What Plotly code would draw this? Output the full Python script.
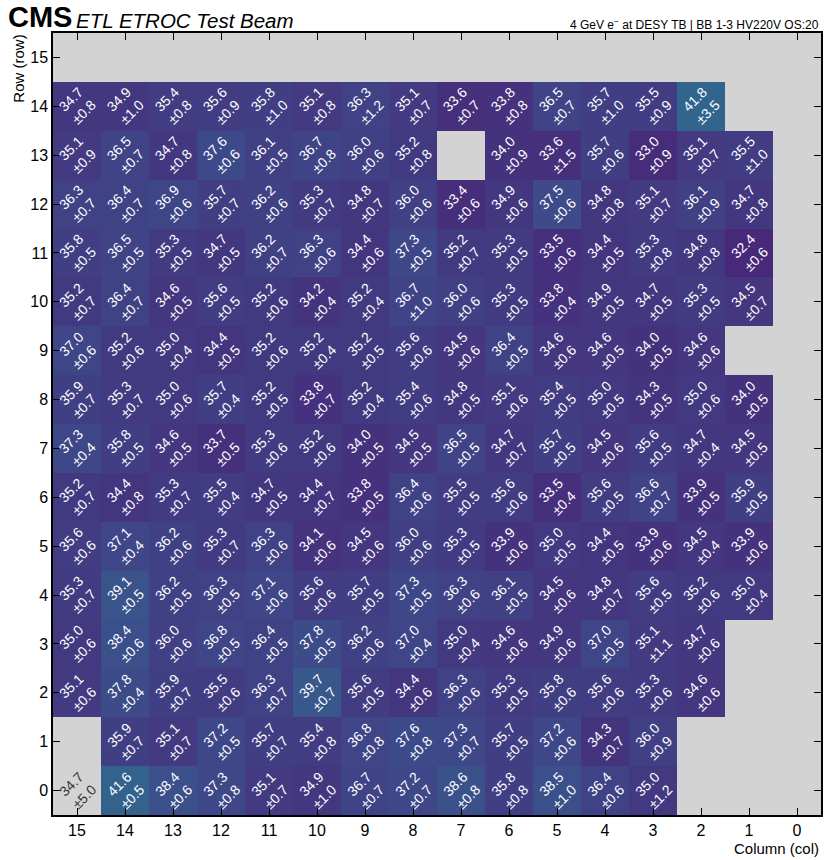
import plotly.graph_objects as go

# Pixel grid: columns are drawn from 15 (left) to 0 (right), rows listed top (15) to bottom (0)
columns = list(range(15, -1, -1))
rows = list(range(15, -1, -1))
N = None

# Time resolution per pixel [ps], one list per row, entries follow `columns`
time_res = [
    [N] * 16,  # row 15
    [34.7, 34.9, 35.4, 35.6, 35.8, 35.1, 36.3, 35.1, 33.6, 33.8, 36.5, 35.7, 35.5, 41.8, N, N],  # 14
    [35.1, 36.5, 34.7, 37.6, 36.1, 36.7, 36.0, 35.2, N, 34.0, 33.6, 35.7, 33.0, 35.1, 35.5, N],  # 13
    [36.3, 36.4, 36.9, 35.7, 36.2, 35.3, 34.8, 36.0, 33.4, 34.9, 37.5, 34.8, 35.1, 36.1, 34.7, N],  # 12
    [35.8, 36.5, 35.3, 34.7, 36.2, 36.3, 34.4, 37.3, 35.2, 35.3, 33.5, 34.4, 35.3, 34.8, 32.4, N],  # 11
    [35.2, 36.4, 34.6, 35.6, 35.2, 34.2, 35.2, 36.7, 36.0, 35.3, 33.8, 34.9, 34.7, 35.3, 34.5, N],  # 10
    [37.0, 35.2, 35.0, 34.4, 35.2, 35.2, 35.2, 35.6, 34.5, 36.4, 34.6, 34.6, 34.0, 34.6, N, N],  # 9
    [35.9, 35.3, 35.0, 35.7, 35.2, 33.8, 35.2, 35.4, 34.8, 35.1, 35.4, 35.0, 34.3, 35.0, 34.0, N],  # 8
    [37.3, 35.8, 34.6, 33.7, 35.3, 35.2, 34.0, 34.5, 36.5, 34.7, 35.7, 34.5, 35.6, 34.7, 34.5, N],  # 7
    [35.2, 34.4, 35.3, 35.5, 34.7, 34.4, 33.8, 36.4, 35.5, 35.6, 33.5, 35.6, 36.6, 33.9, 35.9, N],  # 6
    [35.6, 37.1, 36.2, 35.3, 36.3, 34.1, 34.5, 36.0, 35.3, 33.9, 35.0, 34.4, 33.9, 34.5, 33.9, N],  # 5
    [35.3, 39.1, 36.2, 36.3, 37.1, 35.6, 35.7, 37.3, 36.3, 36.1, 34.5, 34.8, 35.6, 35.2, 35.0, N],  # 4
    [35.0, 38.4, 36.0, 36.8, 36.4, 37.8, 36.2, 37.0, 35.0, 34.6, 34.9, 37.0, 35.1, 34.7, N, N],  # 3
    [35.1, 37.8, 35.9, 35.5, 36.3, 39.7, 35.6, 34.4, 36.3, 35.3, 35.8, 35.6, 35.3, 34.6, N, N],  # 2
    [N, 35.9, 35.1, 37.2, 35.7, 35.4, 36.8, 37.6, 37.3, 35.7, 37.2, 34.3, 36.0, N, N, N],  # 1
    [34.7, 41.6, 38.4, 37.3, 35.1, 34.9, 36.7, 37.2, 38.6, 35.8, 38.5, 36.4, 35.0, N, N, N],  # 0
]

# Uncertainty on the time resolution [ps], same layout
time_res_err = [
    [N] * 16,  # row 15
    [0.8, 1.0, 0.8, 0.9, 1.0, 0.8, 1.2, 0.7, 0.7, 0.8, 0.7, 1.0, 0.9, 3.5, N, N],  # 14
    [0.9, 0.7, 0.8, 0.6, 0.5, 0.8, 0.6, 0.8, N, 0.9, 1.5, 0.6, 0.9, 0.7, 1.0, N],  # 13
    [0.7, 0.7, 0.6, 0.7, 0.6, 0.7, 0.7, 0.6, 0.6, 0.6, 0.6, 0.8, 0.7, 0.9, 0.8, N],  # 12
    [0.5, 0.5, 0.5, 0.5, 0.7, 0.6, 0.6, 0.5, 0.7, 0.5, 0.6, 0.5, 0.8, 0.8, 0.6, N],  # 11
    [0.7, 0.7, 0.5, 0.5, 0.6, 0.4, 0.4, 1.0, 0.6, 0.5, 0.4, 0.5, 0.5, 0.5, 0.7, N],  # 10
    [0.6, 0.6, 0.4, 0.5, 0.6, 0.4, 0.5, 0.6, 0.6, 0.5, 0.6, 0.5, 0.5, 0.6, N, N],  # 9
    [0.7, 0.7, 0.6, 0.4, 0.5, 0.7, 0.4, 0.6, 0.5, 0.6, 0.5, 0.5, 0.5, 0.6, 0.5, N],  # 8
    [0.4, 0.5, 0.5, 0.5, 0.6, 0.6, 0.5, 0.5, 0.5, 0.7, 0.5, 0.6, 0.5, 0.4, 0.5, N],  # 7
    [0.7, 0.8, 0.7, 0.4, 0.5, 0.7, 0.5, 0.6, 0.5, 0.6, 0.4, 0.5, 0.7, 0.5, 0.5, N],  # 6
    [0.6, 0.4, 0.6, 0.7, 0.6, 0.6, 0.6, 0.6, 0.5, 0.6, 0.5, 0.5, 0.6, 0.4, 0.6, N],  # 5
    [0.7, 0.5, 0.5, 0.5, 0.6, 0.6, 0.5, 0.5, 0.6, 0.5, 0.6, 0.7, 0.5, 0.6, 0.4, N],  # 4
    [0.6, 0.6, 0.6, 0.5, 0.5, 0.5, 0.6, 0.4, 0.4, 0.6, 0.6, 0.5, 1.1, 0.6, N, N],  # 3
    [0.6, 0.4, 0.7, 0.6, 0.7, 0.7, 0.5, 0.6, 0.6, 0.5, 0.6, 0.6, 0.6, 0.6, N, N],  # 2
    [N, 0.7, 0.7, 0.5, 0.7, 0.8, 0.8, 0.8, 0.7, 0.5, 0.6, 0.7, 0.9, N, N, N],  # 1
    [5.0, 0.5, 0.6, 0.8, 0.7, 1.0, 0.7, 0.7, 0.8, 0.8, 1.0, 0.6, 1.2, N, N, N],  # 0
]

# Pixels whose fit is quoted but left uncoloured (row, col)
uncoloured = [(0, 15)]

# Colour map limits [ps]
z_low, z_high = 27.5, 72.0

FONT = "Liberation Sans"

# Heatmap grid indexed [row][col] with col 0..15
z = [[None] * 16 for _ in range(16)]
annotations = []
for i, r in enumerate(rows):
    for j, c in enumerate(columns):
        v = time_res[i][j]
        e = time_res_err[i][j]
        if v is None:
            continue
        masked = (r, c) in uncoloured
        if not masked:
            z[r][c] = v
        annotations.append(dict(
            x=c, y=r, xref="x", yref="y",
            text=f"{v:.1f}<br>±{e:.1f}",
            showarrow=False, textangle=-45,
            font=dict(family=FONT, size=14,
                      color="#333333" if masked else "white"),
            align="center",
        ))

fig = go.Figure(go.Heatmap(
    x=list(range(16)), y=list(range(16)), z=z,
    colorscale="Viridis", zmin=z_low, zmax=z_high,
    showscale=False, hoverongaps=False,
))

axis_common = dict(
    showgrid=False, zeroline=False,
    showline=True, linecolor="black", linewidth=1.5, mirror="ticks",
    ticks="inside", ticklen=7, tickwidth=1, tickcolor="black",
    tickmode="array", tickvals=list(range(16)),
    tickfont=dict(family=FONT, size=16, color="black"),
)

fig.update_layout(
    width=837, height=860,
    margin=dict(l=53, r=16, t=33, b=45),
    paper_bgcolor="white", plot_bgcolor="#d3d3d3",
    xaxis=dict(range=[15.5, -0.5], ticktext=[str(v) for v in range(16)], **axis_common),
    yaxis=dict(range=[-0.5, 15.5], ticktext=[str(v) for v in range(16)], **axis_common),
    annotations=annotations,
)

# Experiment label and run conditions above the frame
fig.add_annotation(xref="paper", yref="paper", x=-0.061, y=1, xanchor="left", yanchor="bottom",
                   yshift=-2, showarrow=False,
                   text="<b>CMS</b>",
                   font=dict(family=FONT, size=29, color="black"))
fig.add_annotation(xref="paper", yref="paper", x=0.027, y=1, xanchor="left", yanchor="bottom",
                   yshift=-1, showarrow=False,
                   text="<i>ETL ETROC Test Beam</i>",
                   font=dict(family=FONT, size=20.5, color="black"))
fig.add_annotation(xref="paper", yref="paper", x=1, y=1, xanchor="right", yanchor="bottom",
                   yshift=-1, showarrow=False,
                   text="4 GeV e<sup>−</sup> at DESY TB | BB 1-3 HV220V OS:20",
                   font=dict(family=FONT, size=12, color="black"))

# Axis titles aligned to the ends of the axes
fig.add_annotation(xref="paper", yref="paper", x=1, y=-0.029, xanchor="right", yanchor="top",
                   showarrow=False, text="Column (col)",
                   font=dict(family=FONT, size=15, color="black"))
fig.add_annotation(xref="paper", yref="paper", x=-0.046, y=1, xanchor="center", yanchor="top",
                   showarrow=False, text="Row (row)", textangle=-90,
                   font=dict(family=FONT, size=15, color="black"))

fig.write_html("out.html")
